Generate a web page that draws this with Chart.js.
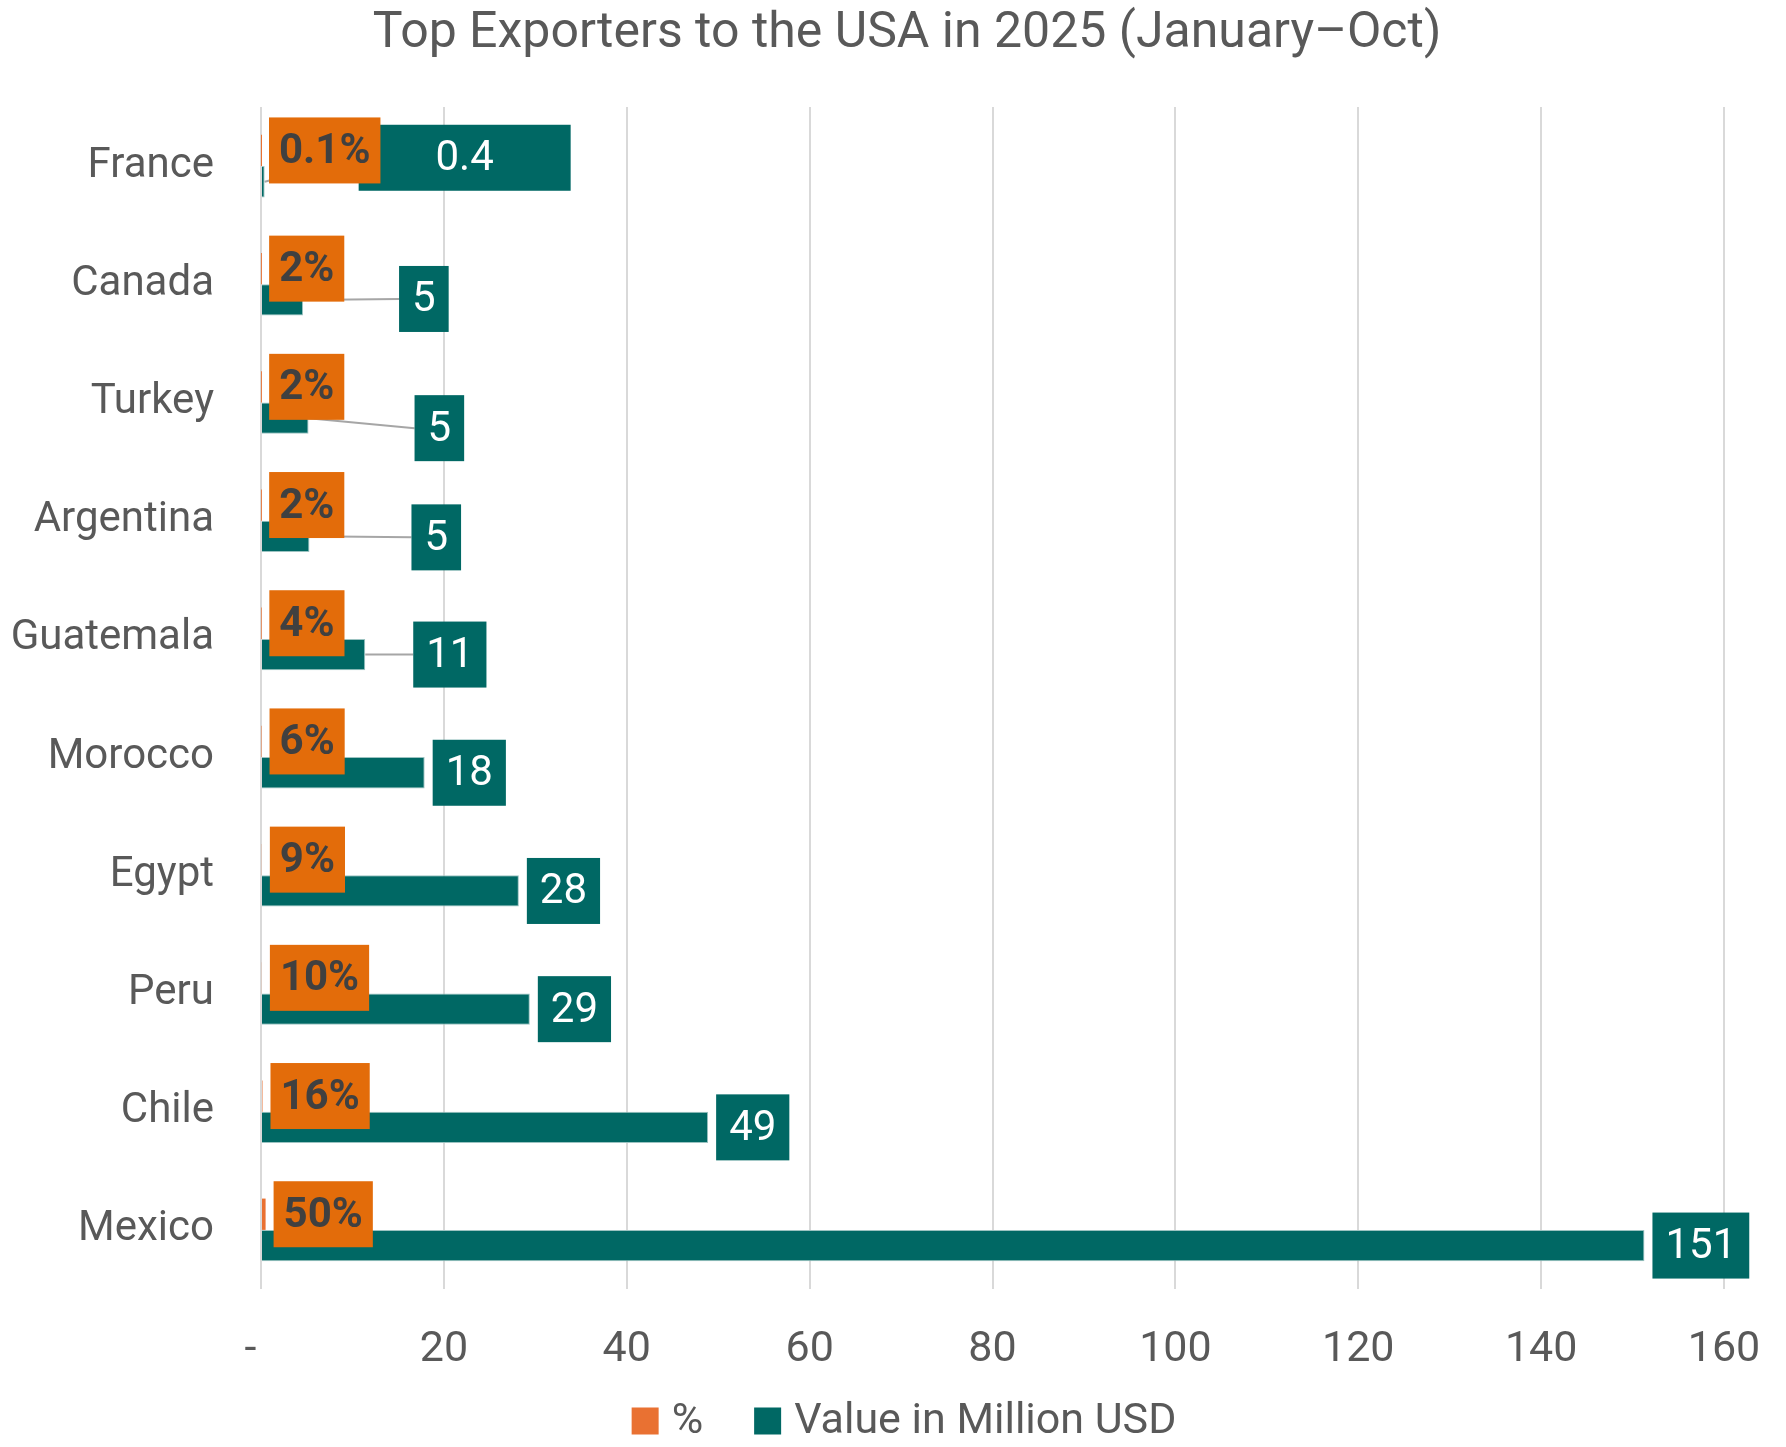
<!DOCTYPE html>
<html>
<head>
<meta charset="utf-8">
<script src="https://cdn.jsdelivr.net/npm/chart.js@4.4.1/dist/chart.umd.min.js"></script>
<style>
  html, body { margin: 0; padding: 0; background: #fff; }
  #wrap { width: 1786px; height: 1447px; }
</style>
</head>
<body>
<div id="wrap"><canvas id="chart"></canvas></div>
<script>
// data
const categories = ['France', 'Canada', 'Turkey', 'Argentina', 'Guatemala', 'Morocco', 'Egypt', 'Peru', 'Chile', 'Mexico'];
const valueMillionUsd = [0.4, 4.6, 5.2, 5.3, 11.4, 17.9, 28.2, 29.4, 48.9, 151.3];
const shareOfTotal = [0.001, 0.015, 0.017, 0.018, 0.038, 0.059, 0.093, 0.097, 0.162, 0.502];
const xTickValues = [0, 20, 40, 60, 80, 100, 120, 140, 160];

// label placement tweaks (pixels), as moved by hand in the original
const valueLabelShift = [[86, -24], [88, -1], [98, 10], [94, 1], [40, 0], [0, 0], [0, 0], [0, 0], [0, 0], [0, 0]];
const valueLabelMinWidth = [212, 0, 0, 0, 0, 0, 0, 0, 0, 0];

const FONT = 'Roboto, "Open Sans", sans-serif';
const TEAL = '#006864';
const ORANGE_BAR = '#E97132';
const ORANGE_BOX = '#E36C0A';
const GREY_TEXT = '#595959';

function fmtValue(v) {
    return v < 1 ? v.toFixed(1) : Math.round(v).toString();
}
function fmtShare(v) {
    return v < 0.01 ? (v * 100).toFixed(1) + '%' : Math.round(v * 100) + '%';
}

const boxLabels = {
    id: 'boxLabels',
    afterLayout(chart) {
        // title sits a bit right of the canvas centre in the original
        chart.titleBlock.left += 45;
        chart.titleBlock.right += 45;
    },
    afterDatasetsDraw(chart) {
        const ctx = chart.ctx;
        const shareMeta = chart.getDatasetMeta(0);
        const valueMeta = chart.getDatasetMeta(1);
        const h = 66, padX = 13, gap = 8;
        ctx.save();
        ctx.textAlign = 'center';
        ctx.textBaseline = 'middle';

        // value labels (teal boxes) with leader lines
        ctx.font = '42px ' + FONT;
        valueMeta.data.forEach((bar, i) => {
            const text = fmtValue(valueMillionUsd[i]);
            const w = Math.max(ctx.measureText(text).width + padX * 2, valueLabelMinWidth[i]);
            const [dx, dy] = valueLabelShift[i];
            const x0 = bar.x + gap + dx;
            const cy = bar.y + dy;
            if (dx > 0) {
                ctx.strokeStyle = '#A6A6A6';
                ctx.lineWidth = 2;
                ctx.beginPath();
                ctx.moveTo(bar.x, bar.y);
                ctx.lineTo(x0, cy);
                ctx.stroke();
            }
            ctx.fillStyle = TEAL;
            ctx.fillRect(x0, cy - h / 2, w, h);
            ctx.fillStyle = '#FFFFFF';
            ctx.fillText(text, x0 + w / 2, cy + 2);
        });

        // share labels (orange boxes)
        ctx.font = 'bold 42px ' + FONT;
        shareMeta.data.forEach((bar, i) => {
            const text = fmtShare(shareOfTotal[i]);
            const w = ctx.measureText(text).width + 20;
            const x0 = bar.x + gap;
            ctx.fillStyle = ORANGE_BOX;
            ctx.fillRect(x0, bar.y - h / 2, w, h);
            ctx.fillStyle = '#404040';
            ctx.fillText(text, x0 + w / 2, bar.y + 2);
        });
        ctx.restore();
    },
    afterDraw(chart) {
        // legend at the bottom, built from the datasets
        const ctx = chart.ctx;
        const sets = chart.data.datasets;
        const box = 27, textGap = 13, itemGap = 51, cy = 1421, cx = 904;
        ctx.save();
        ctx.font = '43px ' + FONT;
        ctx.textBaseline = 'middle';
        ctx.textAlign = 'left';
        const widths = sets.map(d => box + textGap + ctx.measureText(d.label).width);
        const total = widths.reduce((a, b) => a + b, 0) + itemGap * (sets.length - 1);
        let x = cx - total / 2;
        sets.forEach((d, i) => {
            ctx.fillStyle = d.backgroundColor;
            ctx.fillRect(x, cy - box / 2, box, box);
            ctx.fillStyle = GREY_TEXT;
            ctx.fillText(d.label, x + box + textGap, cy + 1);
            x += widths[i] + itemGap;
        });
        ctx.restore();
    }
};

new Chart(document.getElementById('chart').getContext('2d'), {
    type: 'bar',
    data: {
        labels: categories,
        datasets: [
            {
                label: '%',
                data: shareOfTotal,
                backgroundColor: ORANGE_BAR,
                borderWidth: 0
            },
            {
                label: 'Value in Million USD',
                data: valueMillionUsd,
                backgroundColor: TEAL,
                borderColor: '#9CC3C1',
                borderWidth: 1
            }
        ]
    },
    options: {
        indexAxis: 'y',
        responsive: true,
        maintainAspectRatio: false,
        animation: false,
        categoryPercentage: 0.53,
        barPercentage: 1.0,
        layout: { padding: { left: 0, right: 62, top: 0, bottom: 70 } },
        scales: {
            x: {
                min: 0,
                max: 160,
                afterBuildTicks: scale => { scale.ticks = xTickValues.map(v => ({ value: v })); },
                afterFit: scale => { scale.height = 88; },
                grid: { color: '#D9D9D9', lineWidth: 2, drawTicks: true, tickLength: 32, tickColor: 'rgba(0,0,0,0)' },
                border: { display: false },
                ticks: {
                    color: GREY_TEXT,
                    font: { family: FONT, size: 43 },
                    padding: 3,
                    maxRotation: 0,
                    callback: v => v === 0 ? '-  ' : v
                }
            },
            y: {
                grid: { display: false, drawTicks: false },
                border: { display: false },
                afterFit: scale => { scale.width = 261; },
                ticks: {
                    color: GREY_TEXT,
                    font: { family: FONT, size: 42 },
                    padding: 47
                }
            }
        },
        plugins: {
            title: {
                display: true,
                text: 'Top Exporters to the USA in 2025 (January–Oct)',
                color: GREY_TEXT,
                font: { family: FONT, size: 50, weight: 'normal' },
                padding: { top: 4, bottom: 43 }
            },
            legend: { display: false },
            tooltip: { enabled: false }
        }
    },
    plugins: [boxLabels]
});
</script>
</body>
</html>
